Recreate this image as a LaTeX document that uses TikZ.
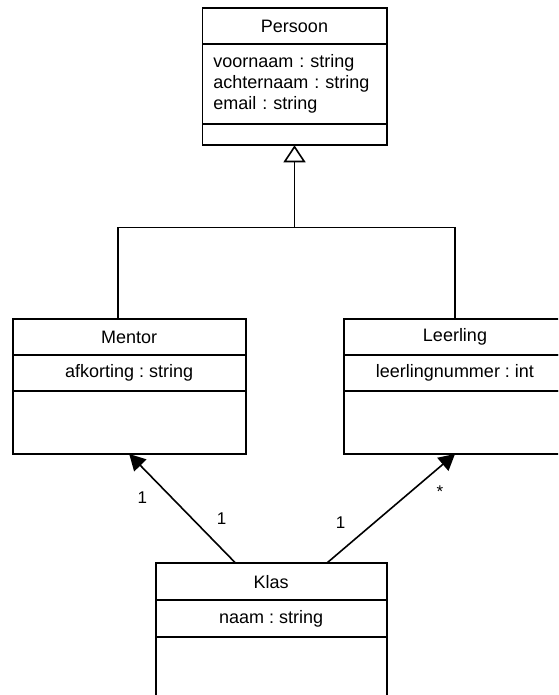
\documentclass[tikz,border=0pt]{standalone}
\usepackage{fontspec}
\setmainfont{Liberation Sans}
\usepackage{xcolor}
\usetikzlibrary{arrows.meta, positioning}
\definecolor{UMLLine}{RGB}{0, 0, 0}
\definecolor{UMLText}{RGB}{0, 0, 0}
\frenchspacing

\tikzset{
  umlbox/.style={draw=UMLLine, line width=0.8pt, fill=white, outer sep=0pt, inner sep=0pt,
                 text=UMLText, font=\fontsize{9}{10.5}\selectfont},
  umltitle/.style={umlbox, minimum height=18pt},
  umlattr/.style={umlbox, minimum height=18pt},
  umlline/.style={draw=UMLLine, line width=0.8pt},
  assoc/.style={umlline, -{Triangle[width=8.5pt, length=8pt]}},
  mult/.style={text=UMLText, font=\fontsize{8.5}{10}\selectfont, inner sep=0pt}
}

\begin{document}
\begin{tikzpicture}[x=0.5pt, y=-0.5pt]
  \useasboundingbox (0,0) rectangle (558,695);
  \fill[white] (0,0) rectangle (558,695);
  \clip (0,0) rectangle (558,695);

  % Persoon
  \node[umltitle, minimum width=92.2pt] (persoon) at (294.5,26.3) {Persoon};
  \node[umlbox, minimum width=92.2pt, minimum height=40pt, inner xsep=5.5pt, text width=81.2pt,
        align=left, below=0pt of persoon] (persoon-attr) {voornaam : string\\achternaam : string\\email : string};
  \node[umlbox, minimum width=92.2pt, minimum height=10.5pt, below=0pt of persoon-attr] (persoon-ops) {};

  % Mentor
  \node[umltitle, minimum width=116.5pt] (mentor) at (129.2,337) {Mentor};
  \node[umlattr, minimum width=116.5pt, below=0pt of mentor] (mentor-attr) {afkorting : string};
  \node[umlbox, minimum width=116.5pt, minimum height=31.5pt, below=0pt of mentor-attr] (mentor-ops) {};

  % Leerling
  \node[umltitle, minimum width=111pt] (leerling) at (455,337) {Leerling};
  \node[umlattr, minimum width=111pt, below=0pt of leerling] (leerling-attr) {leerlingnummer : int};
  \node[umlbox, minimum width=111pt, minimum height=31.5pt, below=0pt of leerling-attr] (leerling-ops) {};

  % Klas
  \node[umltitle, minimum width=115.5pt, minimum height=18.5pt] (klas) at (271.2,581.7) {Klas};
  \node[umlattr, minimum width=115.5pt, minimum height=18.5pt, below=0pt of klas] (klas-attr) {naam : string};
  \node[umlbox, minimum width=115.5pt, minimum height=40pt, below=0pt of klas-attr] (klas-ops) {};

  % generalisatie
  \coordinate (fork) at (294.5,227.3);
  \draw[umlline] ([xshift=-5.75pt]mentor.north) |- (fork) -| (leerling.north);
  \draw[umlline, -{Triangle[width=11pt, length=8.5pt, fill=white]}] (fork) -- (persoon-ops.south);

  % associaties
  \draw[assoc] ([xshift=-17.75pt]klas.north) -- (mentor-ops.south);
  \draw[assoc] ([xshift=27.75pt]klas.north) -- (leerling-ops.south);

  \node[mult] (mult-mentor) at (142.3,498) {1};
  \node[mult] (mult-klas-m) at (221.7,519) {1};
  \node[mult] (mult-klas-l) at (340.7,522.7) {1};
  \node[mult] (mult-leerling) at (440,491.7) {*};
\end{tikzpicture}
\end{document}
